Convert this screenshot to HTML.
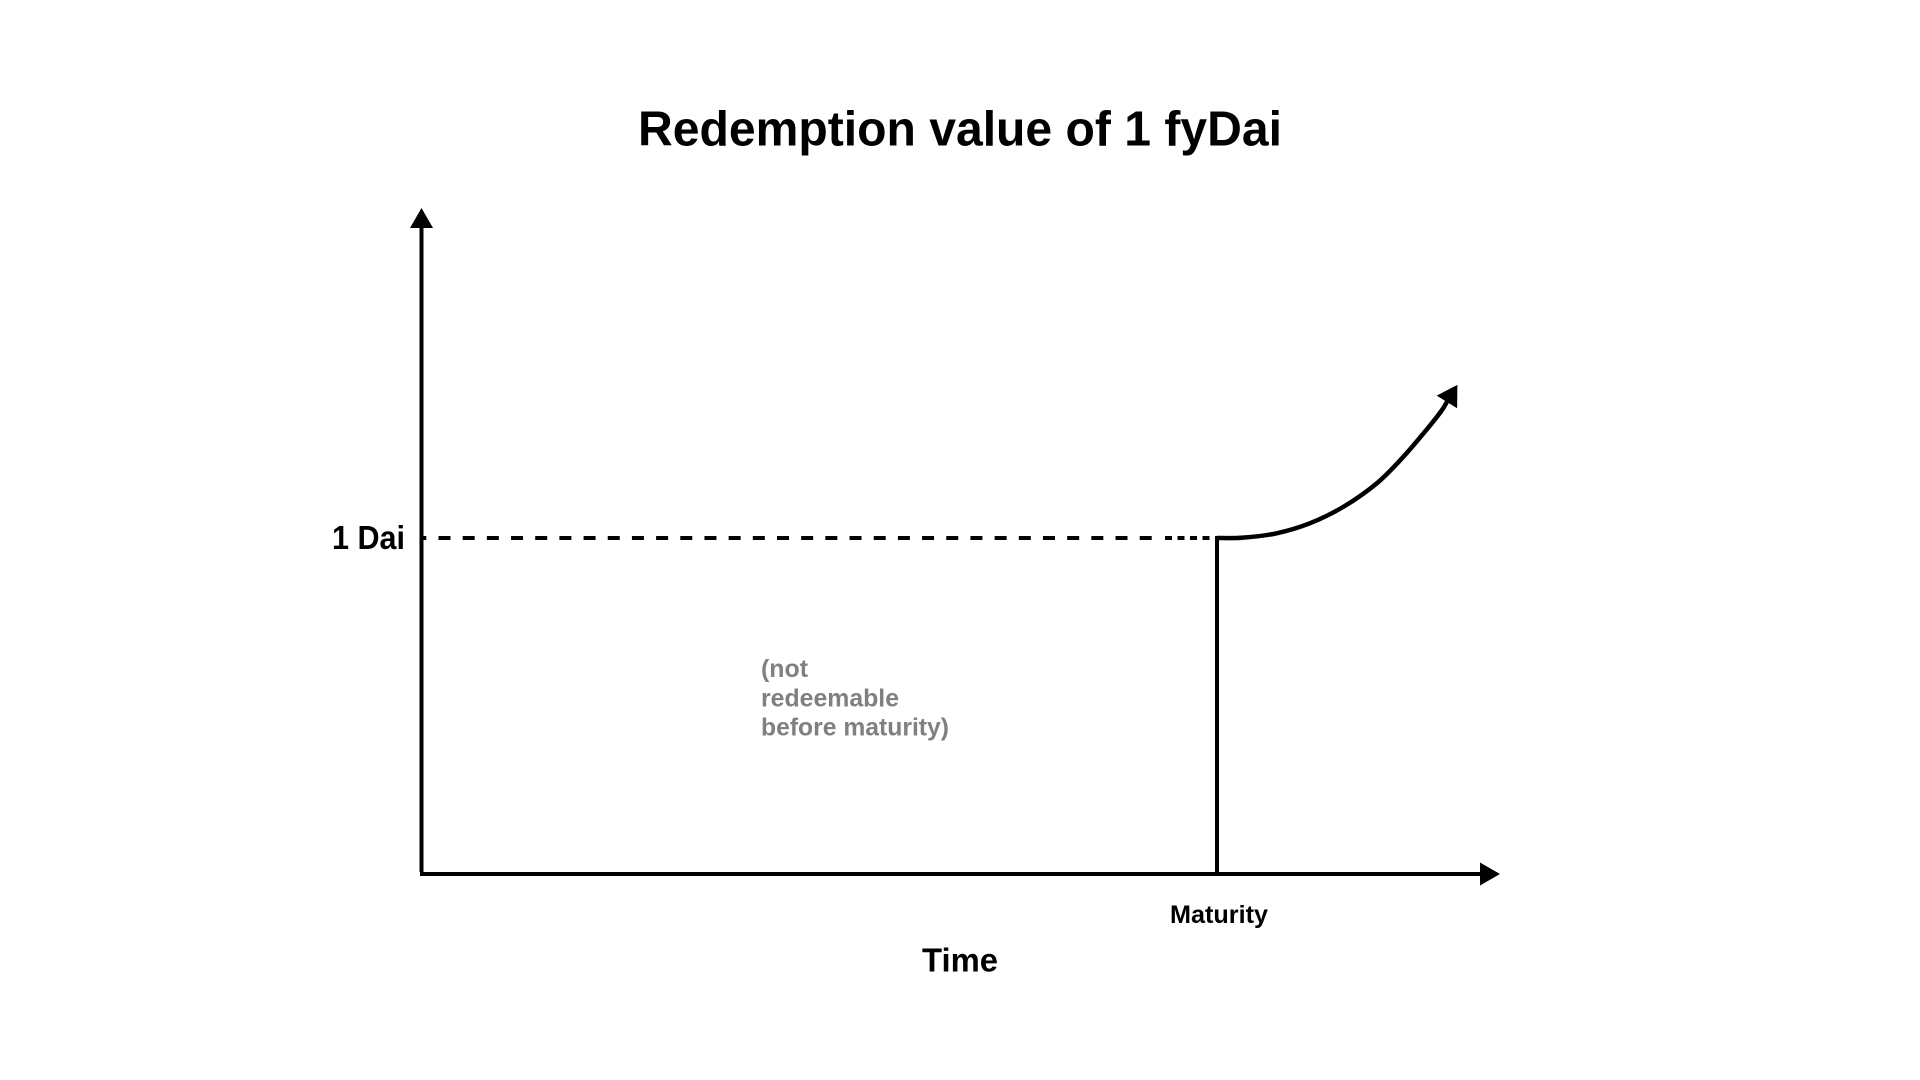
<!DOCTYPE html>
<html lang="en">
<head>
<meta charset="utf-8">
<title>Redemption value of 1 fyDai</title>
<style>
  html, body { margin: 0; padding: 0; background: #fff; }
  body { width: 1920px; height: 1080px; overflow: hidden; }
  svg { display: block; }
  text { font-family: "Liberation Sans", sans-serif; font-weight: 700; fill: #000; }
</style>
</head>
<body>
<svg id="chart" width="1920" height="1080" viewBox="0 0 1920 1080" xmlns="http://www.w3.org/2000/svg">
  <rect x="0" y="0" width="1920" height="1080" fill="#ffffff"/>
  <text x="638" y="145.5" font-size="49" textLength="644" lengthAdjust="spacingAndGlyphs">Redemption value of 1 fyDai</text>
  <g id="marks"></g>
  <text id="y-tick" font-size="33" textLength="73" lengthAdjust="spacingAndGlyphs">1 Dai</text>
  <text id="x-tick" font-size="25" textLength="98" lengthAdjust="spacingAndGlyphs">Maturity</text>
  <text x="922" y="971.5" font-size="33" textLength="76" lengthAdjust="spacingAndGlyphs">Time</text>
  <g font-size="25">
    <text x="761" y="677" style="fill:#808080" textLength="47" lengthAdjust="spacingAndGlyphs">(not</text>
    <text x="761" y="706.5" style="fill:#808080" textLength="138" lengthAdjust="spacingAndGlyphs">redeemable</text>
    <text x="761" y="735.5" style="fill:#808080" textLength="188" lengthAdjust="spacingAndGlyphs">before maturity)</text>
  </g>
</svg>
<script>
// Chart data: time in percent of the period to maturity, value in Dai
const maturityTime = 100;
const parValue = 1;
const curveTimes = [100, 103.3, 107.5, 111.7, 115.9, 120.1, 123.4, 126.4, 128.2, 128.9];
const curveValues = [1, 1.001, 1.014, 1.044, 1.093, 1.163, 1.241, 1.324, 1.378, 1.405];

// Axis functions
function xScale(t) { return 421.5 + t * 7.955; }
function yScale(v) { return 874 - v * 336; }

const NS = 'http://www.w3.org/2000/svg';
const marks = document.getElementById('marks');

function makeLine(x1, y1, x2, y2, dash, offset) {
  const l = document.createElementNS(NS, 'line');
  l.setAttribute('x1', x1);
  l.setAttribute('y1', y1);
  l.setAttribute('x2', x2);
  l.setAttribute('y2', y2);
  l.setAttribute('stroke', '#000');
  l.setAttribute('stroke-width', '4');
  if (dash) l.setAttribute('stroke-dasharray', dash);
  if (offset) l.setAttribute('stroke-dashoffset', offset);
  marks.appendChild(l);
  return l;
}

function makeArrow(tipX, tipY, dirX, dirY, len, half) {
  const n = Math.hypot(dirX, dirY);
  const ux = dirX / n, uy = dirY / n;
  const bx = tipX - ux * len, by = tipY - uy * len;
  const p = document.createElementNS(NS, 'polygon');
  p.setAttribute('points',
    tipX + ',' + tipY + ' ' +
    (bx - uy * half) + ',' + (by + ux * half) + ' ' +
    (bx + uy * half) + ',' + (by - ux * half));
  p.setAttribute('fill', '#000');
  marks.appendChild(p);
  return p;
}

const originX = xScale(0), originY = yScale(0);
const parY = yScale(parValue);
const matX = xScale(maturityTime);

// Axes
const yAxis = makeLine(originX, 872, originX, 226);



const xAxis = makeLine(originX - 1.5, originY, 1482, originY);



const yArrow = makeArrow(originX, 208, 0, -1, 20, 11.5);



const xArrow = makeArrow(1500, originY, 1, 0, 20, 11.5);



// Dashed par line, before maturity
const parDash = makeLine(originX + 2, parY, matX - 65, parY, '12 12.18', '9.2');



const parDashEnd = makeLine(matX - 52, parY, matX, parY, '7 5.5');



// Vertical step at maturity
const matLine = makeLine(matX, originY, matX, parY - 2);



// Post-maturity redemption curve (smooth spline through the data points)
const pts = curveTimes.map(function (t, i) { return [xScale(t), yScale(curveValues[i])]; });
let d = 'M' + pts[0][0] + ' ' + pts[0][1];
for (let i = 0; i < pts.length - 1; i++) {
  const p0 = pts[Math.max(i - 1, 0)], p1 = pts[i], p2 = pts[i + 1], p3 = pts[Math.min(i + 2, pts.length - 1)];
  d += ' C' + (p1[0] + (p2[0] - p0[0]) / 6) + ' ' + (p1[1] + (p2[1] - p0[1]) / 6) +
       ' ' + (p2[0] - (p3[0] - p1[0]) / 6) + ' ' + (p2[1] - (p3[1] - p1[1]) / 6) +
       ' ' + p2[0] + ' ' + p2[1];
}
const curve = document.createElementNS(NS, 'path');
curve.setAttribute('d', d);
curve.setAttribute('fill', 'none');
curve.setAttribute('stroke', '#000');
curve.setAttribute('stroke-width', '4.5');


marks.appendChild(curve);

const last = pts[pts.length - 1], prev = pts[pts.length - 2];
const dirX = last[0] - prev[0], dirY = last[1] - prev[1];
const dirN = Math.hypot(dirX, dirY);
const curveArrow = makeArrow(last[0] + dirX / dirN * 20, last[1] + dirY / dirN * 20, dirX, dirY, 20, 12);



// Tick labels positioned from the axis functions
const yTick = document.getElementById('y-tick');
yTick.setAttribute('x', 332);
yTick.setAttribute('y', parY + 11);
const xTick = document.getElementById('x-tick');
xTick.setAttribute('x', matX - 47);
xTick.setAttribute('y', 923);
</script>
</body>
</html>
